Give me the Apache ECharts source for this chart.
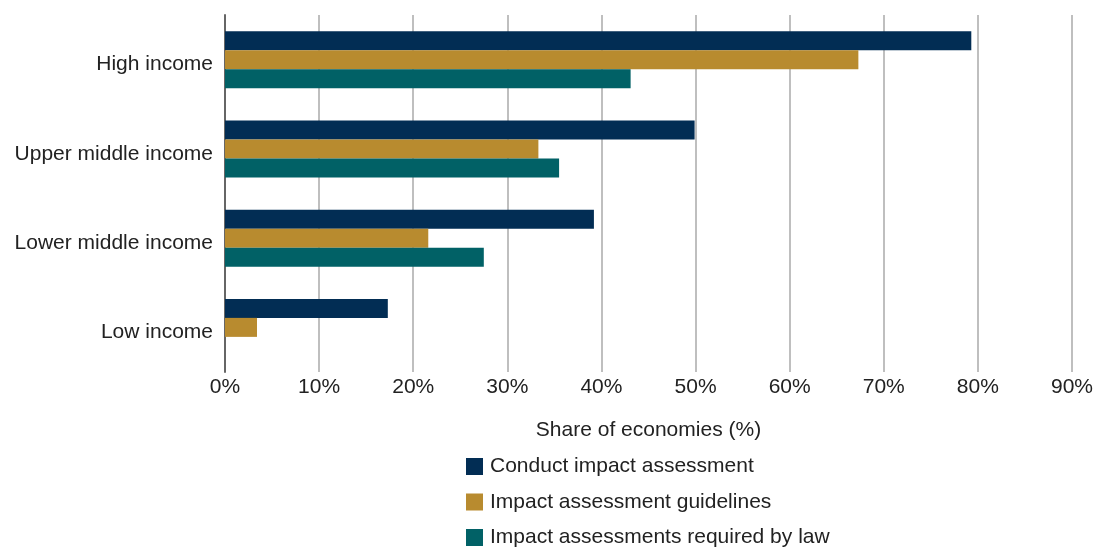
<!DOCTYPE html>
<html>
<head>
<meta charset="utf-8">
<script src="https://cdn.jsdelivr.net/npm/echarts@6/dist/echarts.min.js"></script>
<style>
    html, body { margin: 0; padding: 0; background: #fff; }
    #chart { width: 1098px; height: 548px; }
</style>
</head>
<body>
<div id="chart"></div>
<script>
var categories = ['High income', 'Upper middle income', 'Lower middle income', 'Low income'];
var seriesNames = ['Conduct impact assessment', 'Impact assessment guidelines', 'Impact assessments required by law'];
var conductData = [79.3, 49.9, 39.2, 17.3];
var guidelinesData = [67.3, 33.3, 21.6, 3.4];
var lawData = [43.1, 35.5, 27.5, 0];
var colors = ['#022d54', '#b88b2f', '#016166'];

var fontFamily = '"Liberation Sans", Arial, sans-serif';

function makeSeries(name, data) {
    return {
        name: name,
        type: 'bar',
        data: data,
        barWidth: 19,
        barGap: '0%'
    };
}

var chart = echarts.init(document.getElementById('chart'));
chart.setOption({
    animation: false,
    color: colors,
    textStyle: { fontFamily: fontFamily },
    grid: {
        left: 225,
        right: 26,
        top: 15,
        bottom: 176,
        containLabel: false
    },
    legend: {
        orient: 'vertical',
        left: 466,
        top: 456,
        height: 300,
        padding: 0,
        itemWidth: 17,
        itemHeight: 17,
        itemGap: 14.5,
        icon: 'rect',
        textStyle: { fontSize: 21, color: '#222', fontFamily: fontFamily, padding: [0, 0, 0, 2] },
        data: seriesNames
    },
    xAxis: {
        type: 'value',
        min: 0,
        max: 90,
        interval: 10,
        name: 'Share of economies (%)',
        nameLocation: 'middle',
        nameGap: 48,
        nameTextStyle: { fontSize: 21, color: '#222' },
        axisLine: { show: false },
        axisTick: { show: false },
        axisLabel: {
            formatter: '{value}%',
            fontSize: 21,
            color: '#222',
            margin: 5
        },
        splitLine: { show: true, lineStyle: { color: '#aaaaaa', width: 1.5 } }
    },
    yAxis: {
        type: 'category',
        data: categories,
        inverse: true,
        axisLine: { show: true, lineStyle: { color: '#666', width: 2 } },
        axisTick: { show: false },
        axisLabel: {
            margin: 12,
            formatter: '{a|{value}}',
            rich: {
                a: { fontSize: 21, color: '#222', fontFamily: fontFamily, padding: [10, 0, 0, 0] }
            }
        }
    },
    series: [
        makeSeries(seriesNames[0], conductData),
        makeSeries(seriesNames[1], guidelinesData),
        makeSeries(seriesNames[2], lawData)
    ]
});
</script>
</body>
</html>
